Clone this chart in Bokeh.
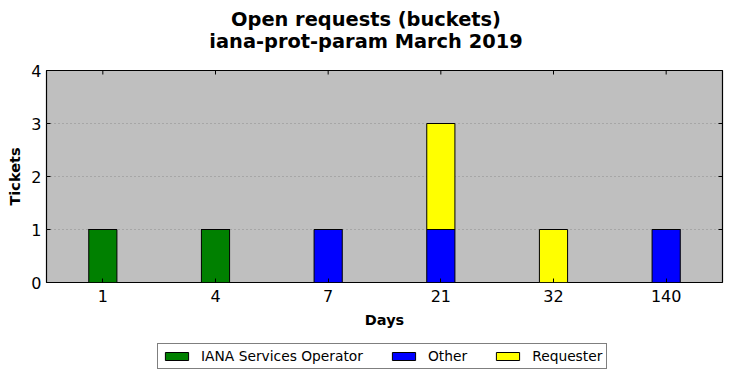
from bokeh.plotting import figure
from bokeh.layouts import column
from bokeh.models import (Div, Legend, LegendItem, FixedTicker, Range1d, FactorRange,
                          ColumnDataSource)
from bokeh.transform import dodge
from bokeh.embed import file_html
from bokeh.resources import INLINE

# ---- data ----
days = ["1", "4", "7", "21", "32", "140"]
iana_ops = [1, 1, 0, 0, 0, 0]
other = [0, 0, 1, 1, 0, 1]
requester = [0, 0, 0, 2, 1, 0]
series_names = ["IANA Services Operator", "Other", "Requester"]
series_keys = ["iana", "other", "requester"]
series_colors = ["#008000", "#0000ff", "#ffff00"]
y_ticks = [0, 1, 2, 3, 4]
title_lines = ["Open requests (buckets)", "iana-prot-param March 2019"]

FONT = "DejaVu Sans"
Y_MIN, Y_MAX = y_ticks[0], y_ticks[-1]

source = ColumnDataSource(dict(days=days, iana=iana_ops, other=other, requester=requester))

# ---- two-line centred title (centred over the plot frame) ----
title_html = ('<div style="width:694px;padding-left:38px;text-align:center;'
              'font-family:\'DejaVu Sans\';font-weight:bold;font-size:19.4px;'
              'line-height:22px;padding-top:9px;color:black">'
              + "<br>".join(title_lines) + '</div>')
title_div = Div(text=title_html, width=732, height=56, margin=0)

# ---- main chart ----
p = figure(x_range=FactorRange(*days, range_padding=0), y_range=Range1d(Y_MIN, Y_MAX),
           width=732, height=278, output_backend="svg", toolbar_location=None,
           min_border_left=46, min_border_right=10, min_border_top=14, min_border_bottom=52)
p.title.visible = False

renderers = p.vbar_stack(series_keys, x="days", width=0.25, source=source,
                         fill_color=series_colors, line_color="black", line_width=1)

p.background_fill_color = "#bfbfbf"
p.border_fill_color = "white"
p.outline_line_color = "black"
p.outline_line_width = 1.2

p.xgrid.grid_line_color = None
p.ygrid.grid_line_color = "#8c8c8c"
p.ygrid.grid_line_dash = "1 3"
p.ygrid.grid_line_width = 1
p.ygrid.ticker = FixedTicker(ticks=y_ticks)

xa = p.xaxis[0]
ya = p.yaxis[0]
ya.ticker = FixedTicker(ticks=y_ticks)
for ax in (xa, ya):
    ax.major_tick_in = 4
    ax.major_tick_out = 0
    ax.minor_tick_in = 0
    ax.minor_tick_out = 0
    ax.major_tick_line_color = "black"
    ax.axis_line_color = None
    ax.major_label_text_font = FONT
    ax.major_label_text_font_size = "16px"
    ax.major_label_text_color = "black"
    ax.axis_label_text_font = FONT
    ax.axis_label_text_font_size = "14.5px"
    ax.axis_label_text_font_style = "bold"
    ax.axis_label_text_color = "black"
xa.axis_label = "Days"
ya.axis_label = "Tickets"
xa.major_label_standoff = 7
xa.axis_label_standoff = 7
ya.major_label_standoff = 5
ya.axis_label_standoff = 5

# mirrored inward ticks on top and right (matplotlib classic look)
tick_len_y = (Y_MAX - Y_MIN) * 4 / 212.0
top_src = ColumnDataSource(dict(x=days, y0=[Y_MAX] * len(days), y1=[Y_MAX - tick_len_y] * len(days)))
p.segment(x0="x", y0="y0", x1="x", y1="y1", source=top_src, line_color="black", line_width=1)
right_src = ColumnDataSource(dict(edge=[days[-1]] * len(y_ticks), y=y_ticks))
p.segment(x0=dodge("edge", 0.5, range=p.x_range), y0="y",
          x1=dodge("edge", 0.5 - 4 / 112.67, range=p.x_range), y1="y",
          source=right_src, line_color="black", line_width=1)

# ---- legend strip below the chart ----
lg = figure(width=732, height=44, output_backend="svg", toolbar_location=None,
            x_range=FactorRange(*days), y_range=Range1d(0, 1),
            x_axis_location=None, y_axis_location=None,
            min_border=0, min_border_left=0, min_border_right=0,
            min_border_top=0, min_border_bottom=0)
lg.title.visible = False
lg.outline_line_color = None
lg.background_fill_color = "white"
lg.border_fill_color = "white"
lg.grid.visible = False
swatches = lg.vbar_stack(series_keys, x="days", width=0.25, source=source,
                         fill_color=series_colors, line_color="black", line_width=1)
for r in swatches:
    r.visible = False  # only used for the legend keys
legend = Legend(items=[LegendItem(label=n, renderers=[r]) for n, r in zip(series_names, swatches)],
                orientation="horizontal", location=(111, 9),
                border_line_color="black", border_line_width=1.2,
                label_text_font=FONT, label_text_font_size="13.8px", label_text_color="black",
                glyph_width=29, glyph_height=10, label_standoff=10, spacing=26,
                padding=4, margin=0, inactive_fill_alpha=0)
lg.add_layout(legend, "center")

open("out.html", "w").write(file_html(column(title_div, p, lg, spacing=0), INLINE))
